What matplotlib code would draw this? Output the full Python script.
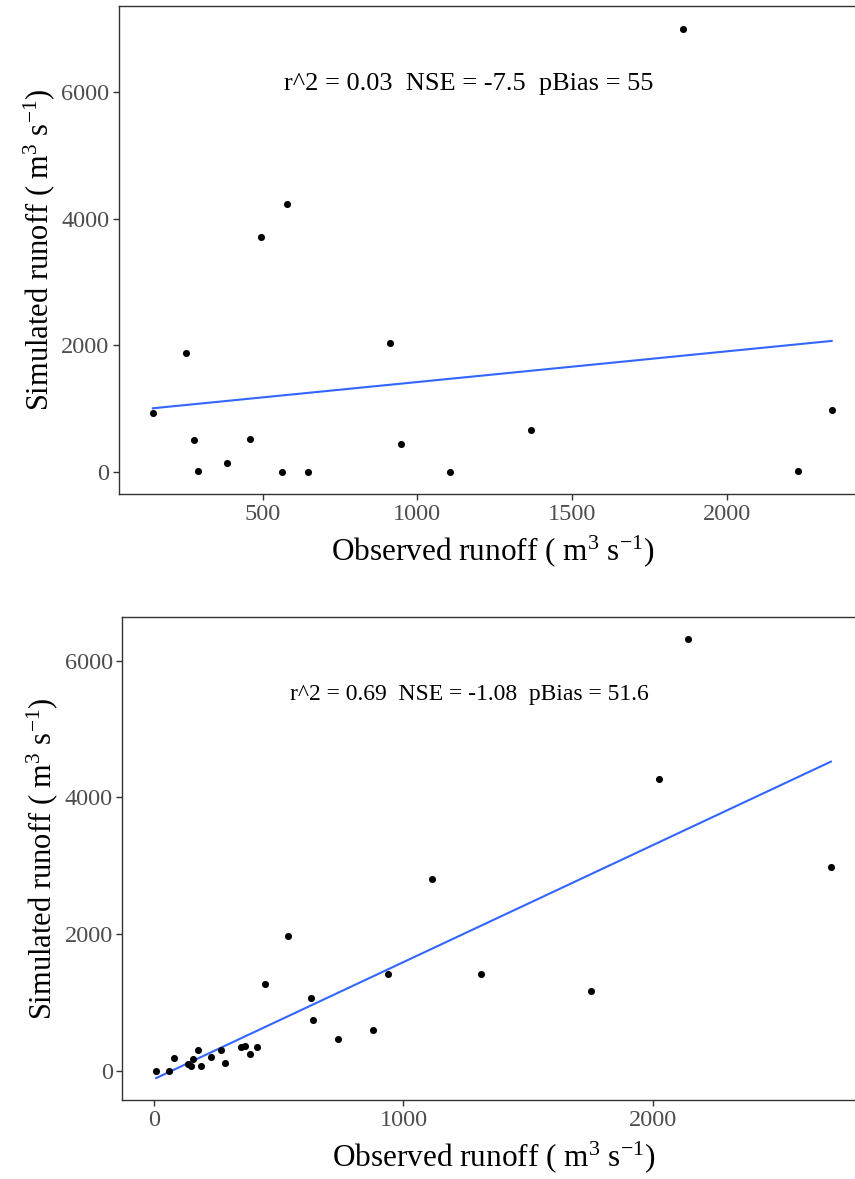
import numpy as np
import matplotlib
matplotlib.use("Agg")
import matplotlib.pyplot as plt

plt.rcParams['font.family'] = ['Liberation Serif', 'DejaVu Serif']
plt.rcParams['mathtext.default'] = 'regular'

# upper panel: observed vs simulated runoff
obs_top = [146, 253, 280, 293, 385, 460, 496, 580, 563, 647, 913, 948,
           1104, 1366, 1858, 2228, 2338]
sim_top = [930, 1880, 509, 10, 137, 520, 3717, 4237, 0, 0, 2037, 441,
           0, 666, 7004, 20, 981]
stats_top = "r^2 = 0.03  NSE = -7.5  pBias = 55"
xticks_top = [500, 1000, 1500, 2000]

# lower panel
obs_bot = [9, 59, 80, 137, 147, 157, 178, 187, 227, 267, 283, 347, 367,
           385, 414, 447, 537, 629, 639, 738, 878, 939, 1116, 1310, 1750,
           2023, 2139, 2713]
sim_bot = [0, 0, 179, 102, 63, 169, 306, 73, 198, 296, 117, 344, 354,
           237, 344, 1262, 1975, 1063, 747, 460, 587, 1413, 2797, 1413, 1160,
           4268, 6312, 2972]
stats_bot = "r^2 = 0.69  NSE = -1.08  pBias = 51.6"
xticks_bot = [0, 1000, 2000]

yticks = [0, 2000, 4000, 6000]

fig = plt.figure(figsize=(8.55, 11.79), dpi=100)
ax1 = fig.add_axes([0.1392, 0.581, 0.8732, 0.4135])
ax2 = fig.add_axes([0.1432, 0.067, 0.868, 0.4094])

xlab = r"Observed runoff ( m$^3$ s$^{-1}$)"
ylab = r"Simulated runoff ( m$^3$ s$^{-1}$)"


def panel(ax, x, y, label, xt, label_size):
    x = np.asarray(x, float)
    y = np.asarray(y, float)
    ax.scatter(x, y, s=26, color='black', zorder=3, linewidths=0)
    # linear fit, like geom_smooth(method = "lm", se = FALSE)
    k, b = np.polyfit(x, y, 1)
    xs = np.array([x.min(), x.max()])
    ax.plot(xs, k * xs + b, color='#3366FF', lw=1.5, zorder=2)
    ax.margins(0.05)
    ax.set_xticks(xt)
    ax.set_yticks(yticks)
    ax.tick_params(colors='#333333', labelcolor='#4D4D4D', labelsize=17.5,
                   length=4, width=1, pad=3)
    for sp in ax.spines.values():
        sp.set_color('#333333')
        sp.set_linewidth(1)
    ax.set_xlabel(xlab, fontsize=22.5, labelpad=6)
    ax.set_ylabel(ylab, fontsize=22, labelpad=3)
    ax.text(0.468, 0.84, label, transform=ax.transAxes, ha='center',
            va='center', fontsize=label_size, color='black')


panel(ax1, obs_top, sim_top, stats_top, xticks_top, 19)
panel(ax2, obs_bot, sim_bot, stats_bot, xticks_bot, 17)

fig.savefig("out.png", dpi=100)
